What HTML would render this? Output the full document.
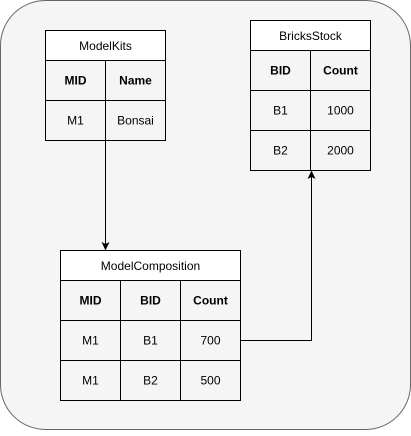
<!DOCTYPE html>
<html><head><style>body{margin:0;background:#fff}</style></head><body>
<svg width="411" height="431" xmlns="http://www.w3.org/2000/svg" font-family="Liberation Sans, Helvetica, sans-serif" font-size="12">
<rect x="0.5" y="0.5" width="410" height="429" rx="45" ry="45" fill="#f5f5f5" stroke="#666"/>
<g stroke="#000" fill="none">
<rect x="45.5" y="30.5" width="120" height="30" fill="#fff"/>
<rect x="45.5" y="60.5" width="120" height="80"/>
<line x1="45.5" y1="100.5" x2="165.5" y2="100.5"/>
<line x1="105.5" y1="60.5" x2="105.5" y2="140.5"/>
<rect x="250.5" y="20.5" width="120" height="30" fill="#fff"/>
<rect x="250.5" y="50.5" width="120" height="120"/>
<line x1="250.5" y1="90.5" x2="370.5" y2="90.5"/>
<line x1="250.5" y1="130.5" x2="370.5" y2="130.5"/>
<line x1="310.5" y1="50.5" x2="310.5" y2="170.5"/>
<rect x="60.5" y="250.5" width="180" height="30" fill="#fff"/>
<rect x="60.5" y="280.5" width="180" height="120"/>
<line x1="60.5" y1="320.5" x2="240.5" y2="320.5"/>
<line x1="60.5" y1="360.5" x2="240.5" y2="360.5"/>
<line x1="120.5" y1="280.5" x2="120.5" y2="400.5"/>
<line x1="180.5" y1="280.5" x2="180.5" y2="400.5"/>
<line x1="105.5" y1="140.5" x2="105.5" y2="244"/>
<polyline points="240.5,340.5 311.5,340.5 311.5,177"/>
</g>
<polygon points="105.5,250.5 101.5,242 105.5,244 109.5,242" fill="#000"/>
<polygon points="311.5,170.5 315.5,179 311.5,177 307.5,179" fill="#000"/>
<g text-anchor="middle" fill="#000">
<text x="105.5" y="50">ModelKits</text>
<text x="75.5" y="84.5" font-weight="bold">MID</text>
<text x="135.5" y="84.5" font-weight="bold">Name</text>
<text x="75.5" y="124.5">M1</text>
<text x="135.5" y="124.5">Bonsai</text>
<text x="310.5" y="40">BricksStock</text>
<text x="280.5" y="74.5" font-weight="bold">BID</text>
<text x="340.5" y="74.5" font-weight="bold">Count</text>
<text x="280.5" y="114.5">B1</text>
<text x="340.5" y="114.5">1000</text>
<text x="280.5" y="154.5">B2</text>
<text x="340.5" y="154.5">2000</text>
<text x="150.5" y="270">ModelComposition</text>
<text x="90.5" y="304.5" font-weight="bold">MID</text>
<text x="150.5" y="304.5" font-weight="bold">BID</text>
<text x="210.5" y="304.5" font-weight="bold">Count</text>
<text x="90.5" y="344.5">M1</text>
<text x="150.5" y="344.5">B1</text>
<text x="210.5" y="344.5">700</text>
<text x="90.5" y="384.5">M1</text>
<text x="150.5" y="384.5">B2</text>
<text x="210.5" y="384.5">500</text>
</g>
</svg>
</body></html>
